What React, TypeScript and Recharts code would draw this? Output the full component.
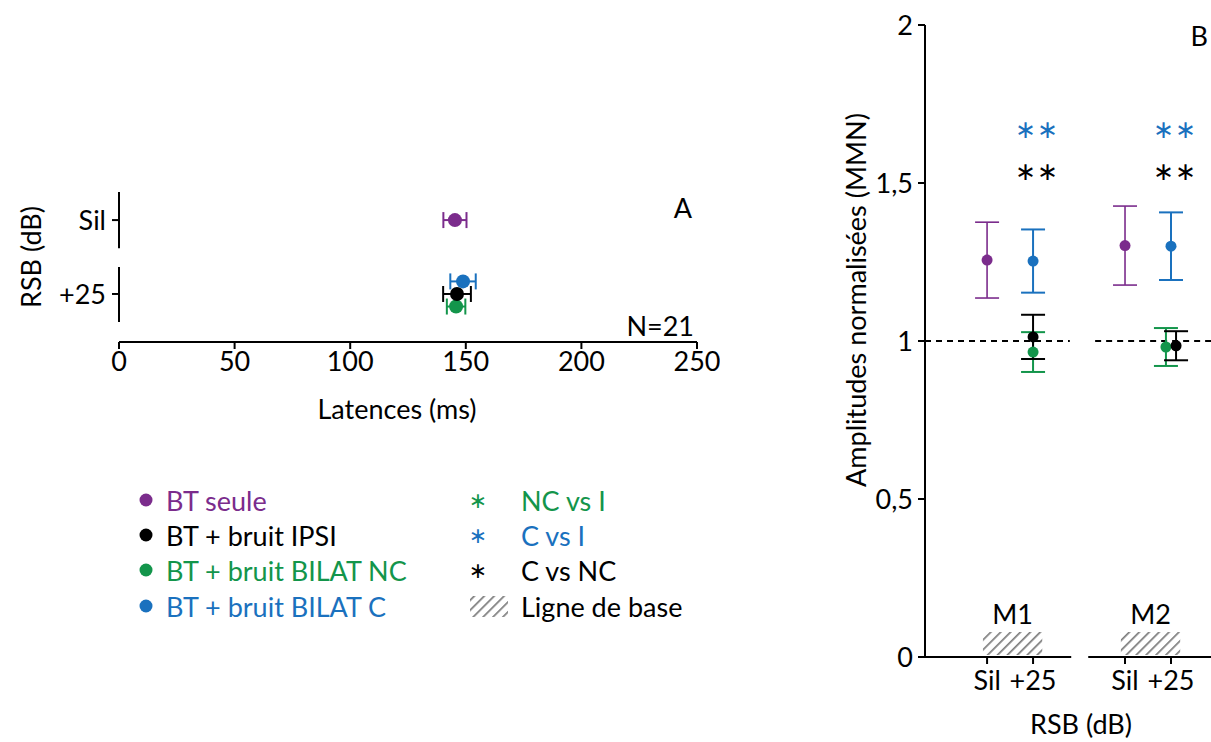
import React from 'react';
import { ScatterChart, Scatter, XAxis, YAxis, ErrorBar, ReferenceLine, ReferenceArea } from 'recharts';

const FONT = 'Lato, "Open Sans", sans-serif';
const STAR_FONT = '"DejaVu Sans", sans-serif';
const FS = 27;

// ---------- shared ----------
const conditions = ['Sil', '+25'];
const markers = ['M1', 'M2'];
const seriesNames = ['BT seule', 'BT + bruit IPSI', 'BT + bruit BILAT NC', 'BT + bruit BILAT C'];
const seriesColors = ['#7B2C8C', '#000000', '#13954B', '#1A71BE'];
const seriesCondition = ['Sil', '+25', '+25', '+25'];

// ---------- panel A : latencies (ms), indexed by condition [Sil, +25] ----------
const latBTseule = [145.3, null];
const latBTseuleErr = [5, null];
const latIPSI = [null, 146.2];
const latIPSIErr = [null, 6];
const latNC = [null, 145.8];
const latNCErr = [null, 4];
const latC = [null, 148.8];
const latCErr = [null, 5.5];
const latTicks = [0, 50, 100, 150, 200, 250];
const nLabel = 'N=21';

// ---------- panel B : normalised amplitudes, indexed by marker [M1, M2] ----------
const amplBTseule = [1.256, 1.302];
const amplBTseuleErr = [0.12, 0.125];
const amplIPSI = [1.013, 0.985];
const amplIPSIErr = [0.07, 0.046];
const amplNC = [0.965, 0.981];
const amplNCErr = [0.063, 0.06];
const amplC = [1.253, 1.3];
const amplCErr = [0.1, 0.107];
const amplTicks = [0, 0.5, 1, 1.5, 2];
const baselineValue = 1;

// significance, indexed by marker [M1, M2]
const sigNCvsI = ['', ''];
const sigCvsI = ['**', '**'];
const sigCvsNC = ['**', '**'];

// legends
const legendSeries = seriesNames;
const legendSig = ['NC vs I', 'C vs I', 'C vs NC'];
const legendSigColors = ['#13954B', '#1A71BE', '#000000'];
const legendBase = 'Ligne de base';

// ---------- build panel A data ----------
const latSeries = [
  [latBTseule, latBTseuleErr],
  [latIPSI, latIPSIErr],
  [latNC, latNCErr],
  [latC, latCErr],
];
const condY = (ci: number) => 2 - ci; // Sil on top
const dodgeA = [0, 0, -0.17, 0.17];
const dataA = latSeries.map(([vals, errs], si) =>
  conditions
    .map((c, ci) => (vals[ci] == null ? null : { x: vals[ci] as number, y: condY(ci) + dodgeA[si], err: errs[ci] as number }))
    .filter(Boolean) as { x: number; y: number; err: number }[]
);

// ---------- build panel B data ----------
const amplSeries = [
  [amplBTseule, amplBTseuleErr],
  [amplIPSI, amplIPSIErr],
  [amplNC, amplNCErr],
  [amplC, amplCErr],
];
const groupGap = 3;
const catX = (mi: number, cond: string) => mi * groupGap + conditions.indexOf(cond);
const dodgeB = (si: number, mi: number) => (mi === 1 ? (si === 1 ? 0.11 : si === 2 ? -0.11 : 0) : 0);
const dataB = amplSeries.map(([vals, errs], si) =>
  markers.map((m, mi) => ({ x: catX(mi, seriesCondition[si]) + dodgeB(si, mi), y: vals[mi], err: errs[mi] }))
);
const sigLevels = [1.535, 1.668, 1.8];
const sigSets = [
  { marks: sigCvsNC, color: '#000000', level: sigLevels[0] },
  { marks: sigCvsI, color: '#1A71BE', level: sigLevels[1] },
  { marks: sigNCvsI, color: '#13954B', level: sigLevels[2] },
];
const sigData = sigSets.map((s) =>
  markers
    .map((m, mi) => ({ x: catX(mi, '+25') + 0.08, y: s.level, label: s.marks[mi] }))
    .filter((d) => d.label !== '')
);
const xTicksB = markers.flatMap((m, mi) => conditions.map((c) => catX(mi, c)));
const xTickLabelB = (v: number) => conditions[Math.round(v) % groupGap] ?? '';

const tickStyle = { fill: '#000', fontSize: FS, fontFamily: FONT };
const tickLine = { stroke: '#000', strokeWidth: 2 };

const Dot = (r: number, color: string) => (p: any) =>
  p.cx == null ? <g /> : <circle cx={p.cx} cy={p.cy} r={r} fill={color} />;

const SigText = (color: string) => (p: any) => {
  if (p.cx == null) return <g />;
  const n = p.payload.label.length;
  const gap = 22;
  return (
    <g>
      {Array.from({ length: n }).map((_, k) => (
        <text
          key={k}
          x={p.cx + (k - (n - 1) / 2) * gap}
          y={p.cy}
          fill={color}
          fontSize={25}
          fontFamily={STAR_FONT}
          textAnchor="middle"
          dominantBaseline="central"
        >
          {'\u2217'}
        </text>
      ))}
    </g>
  );
};

function PanelA() {
  const order = [0, 2, 1, 3];
  return (
    <ScatterChart width={720} height={270} margin={{ top: 22, right: 23, bottom: 38, left: 59 }}>
      <XAxis
        type="number"
        dataKey="x"
        domain={[0, 250]}
        ticks={latTicks}
        allowDataOverflow
        axisLine={{ stroke: '#000', strokeWidth: 2 }}
        tickLine={tickLine}
        tickSize={7}
        tickMargin={3}
        tick={tickStyle}
        height={60}
        interval={0}
      />
      <YAxis
        type="number"
        dataKey="y"
        domain={[0.35, 2.38]}
        ticks={[1, 2]}
        allowDataOverflow
        axisLine={false}
        tickLine={tickLine}
        tickSize={7}
        tickMargin={6}
        tick={tickStyle}
        tickFormatter={(v: number) => conditions[2 - v]}
        width={60}
      />
      <ReferenceLine segment={[{ x: 0, y: 1.62 }, { x: 0, y: 2.38 }]} stroke="#000" strokeWidth={2} ifOverflow="visible" />
      <ReferenceLine segment={[{ x: 0, y: 0.62 }, { x: 0, y: 1.365 }]} stroke="#000" strokeWidth={2} ifOverflow="visible" />
      {order.map((si) => (
        <Scatter key={si} name={seriesNames[si]} data={dataA[si]} shape={Dot(7, seriesColors[si])} isAnimationActive={false}>
          <ErrorBar dataKey="err" direction="x" width={8} stroke={seriesColors[si]} strokeWidth={2} isAnimationActive={false} />
        </Scatter>
      ))}
    </ScatterChart>
  );
}

function PanelB() {
  const order = [0, 3, 2, 1];
  const baseRects = markers.map((m, mi) => ({ m, x1: catX(mi, 'Sil') - 0.09, x2: catX(mi, '+25') + 0.2 }));
  return (
    <ScatterChart width={411} height={742} margin={{ top: 25, right: 0, bottom: 45, left: 65 }}>
      <defs>
        <pattern id="hatchB" width="7" height="7" patternUnits="userSpaceOnUse" patternTransform="rotate(45)">
          <rect width="7" height="7" fill="#fff" />
          <line x1="0" y1="0" x2="0" y2="7" stroke="#7c7c7c" strokeWidth="3.4" />
        </pattern>
      </defs>
      <XAxis
        type="number"
        dataKey="x"
        domain={[-1.35, 4.87]}
        ticks={xTicksB}
        allowDataOverflow
        axisLine={false}
        tickLine={tickLine}
        tickSize={7}
        tickMargin={7}
        tick={tickStyle}
        tickFormatter={xTickLabelB}
        height={40}
        interval={0}
      />
      <YAxis
        type="number"
        dataKey="y"
        domain={[0, 2]}
        ticks={amplTicks}
        allowDataOverflow
        axisLine={{ stroke: '#000', strokeWidth: 2 }}
        tickLine={tickLine}
        tickSize={7}
        tickMargin={5}
        tick={tickStyle}
        tickFormatter={(v: number) => String(v).replace('.', ',')}
        width={60}
        interval={0}
      />
      <ReferenceLine segment={[{ x: -1.35, y: 0 }, { x: 1.83, y: 0 }]} stroke="#000" strokeWidth={2} ifOverflow="visible" />
      <ReferenceLine segment={[{ x: 2.2, y: 0 }, { x: 4.87, y: 0 }]} stroke="#000" strokeWidth={2} ifOverflow="visible" />
      <ReferenceLine segment={[{ x: -1.35, y: baselineValue }, { x: 1.8, y: baselineValue }]} stroke="#000" strokeWidth={2} strokeDasharray="6 5" ifOverflow="visible" />
      <ReferenceLine segment={[{ x: 2.35, y: baselineValue }, { x: 4.87, y: baselineValue }]} stroke="#000" strokeWidth={2} strokeDasharray="6 5" ifOverflow="visible" />
      {baseRects.map((r) => (
        <ReferenceArea
          key={r.m}
          x1={r.x1}
          x2={r.x2}
          y1={0.006}
          y2={0.079}
          fill="url(#hatchB)"
          fillOpacity={1}
          stroke="none"
          ifOverflow="visible"
          label={{ value: r.m, position: 'top', offset: 8, fill: '#000', fontSize: FS, fontFamily: FONT }}
        />
      ))}
      {order.map((si) => (
        <Scatter key={si} name={seriesNames[si]} data={dataB[si]} shape={Dot(5.5, seriesColors[si])} isAnimationActive={false}>
          <ErrorBar dataKey="err" direction="y" width={12} stroke={seriesColors[si]} strokeWidth={si === 0 ? 1.6 : 2} isAnimationActive={false} />
        </Scatter>
      ))}
      {sigData.map((d, i) => (
        <Scatter key={'sig' + i} data={d} shape={SigText(sigSets[i].color)} isAnimationActive={false} />
      ))}
    </ScatterChart>
  );
}

function Overlay() {
  const rowsY = [500, 535, 570, 606];
  return (
    <svg width={1211} height={742} style={{ position: 'absolute', left: 0, top: 0, pointerEvents: 'none' }}>
      <defs>
        <pattern id="hatchL" width="7" height="7" patternUnits="userSpaceOnUse" patternTransform="rotate(45)">
          <rect width="7" height="7" fill="#fff" />
          <line x1="0" y1="0" x2="0" y2="7" stroke="#7c7c7c" strokeWidth="3.4" />
        </pattern>
      </defs>
      <g fontFamily={FONT} fontSize={FS}>
        <text x={30} y={257} transform="rotate(-90 30 257)" textAnchor="middle" dominantBaseline="central">RSB (dB)</text>
        <text x={397} y={408} textAnchor="middle" dominantBaseline="central">Latences (ms)</text>
        <text x={683} y={207} textAnchor="middle" dominantBaseline="central">A</text>
        <text x={694} y={325} textAnchor="end" dominantBaseline="central">{nLabel}</text>
        <text x={855} y={300} transform="rotate(-90 855 300)" textAnchor="middle" dominantBaseline="central">Amplitudes normalisées (MMN)</text>
        <text x={1081} y={723} textAnchor="middle" dominantBaseline="central">RSB (dB)</text>
        <text x={1208} y={35} textAnchor="end" dominantBaseline="central">B</text>
        {legendSeries.map((s, i) => (
          <g key={s}>
            <circle cx={146} cy={rowsY[i]} r={6.5} fill={seriesColors[i]} />
            <text x={166} y={rowsY[i]} fill={seriesColors[i]} dominantBaseline="central">{s}</text>
          </g>
        ))}
        {legendSig.map((s, i) => (
          <g key={s}>
            <text x={478} y={rowsY[i]} fill={legendSigColors[i]} fontSize={22} fontFamily={STAR_FONT} textAnchor="middle" dominantBaseline="central">{'\u2217'}</text>
            <text x={521} y={rowsY[i]} fill={legendSigColors[i]} dominantBaseline="central">{s}</text>
          </g>
        ))}
        <rect x={470} y={596} width={38} height={21} fill="url(#hatchL)" />
        <text x={521} y={rowsY[3]} fill="#000" dominantBaseline="central">{legendBase}</text>
      </g>
    </svg>
  );
}

export default function App() {
  return (
    <div style={{ position: 'absolute', left: 0, top: 0, width: 1211, height: 742, background: '#fff', fontFamily: FONT }}>
      <div style={{ position: 'absolute', left: 0, top: 170 }}>
        <PanelA />
      </div>
      <div style={{ position: 'absolute', left: 800, top: 0 }}>
        <PanelB />
      </div>
      <Overlay />
    </div>
  );
}
